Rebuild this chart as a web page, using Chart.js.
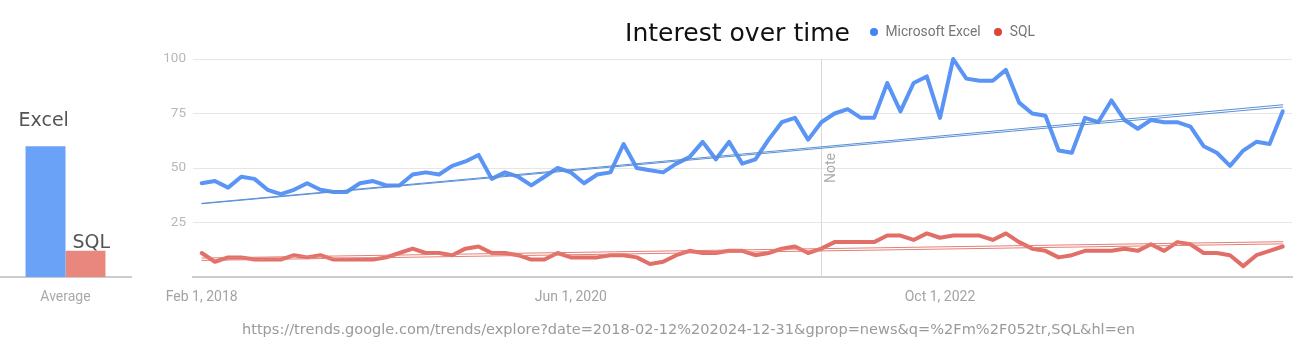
<!DOCTYPE html>
<html><head><meta charset="utf-8">
<script src="https://cdn.jsdelivr.net/npm/chart.js@4.4.1/dist/chart.umd.min.js"></script>
<style>
html,body{margin:0;padding:0;background:#fff;width:1315px;height:357px;overflow:hidden;position:relative;font-family:Roboto,sans-serif}
canvas{position:absolute;left:0;top:0}
.txt{position:absolute;white-space:nowrap;line-height:1;transform-origin:0 0}
#legend{position:absolute;left:870px;top:25px;display:flex;align-items:center;font-family:Roboto,sans-serif;font-size:13.8px;color:#757575;line-height:1}
#legend .item{display:flex;align-items:center;margin-right:13.5px}
#legend .dot{width:8px;height:8px;border-radius:50%;margin-right:7.5px}
</style></head><body>
<canvas id="main" width="1315" height="357"></canvas>
<canvas id="avg" width="160" height="357"></canvas>
<div id="title" class="txt" style="left:625px;top:20px;font-family:'DejaVu Sans',sans-serif;font-size:25px;color:#111"></div>
<div id="legend"></div>
<div id="url" class="txt" style="left:242px;top:322px;font-family:'DejaVu Sans',sans-serif;font-size:14.5px;color:#9a9a9a"></div>
<script>
// ---- data ----
const titleText = "Interest over time";
const urlText = "https://trends.google.com/trends/explore?date=2018-02-12%202024-12-31&gprop=news&q=%2Fm%2F052tr,SQL&hl=en";
const seriesNames = ["Microsoft Excel", "SQL"];
const seriesColors = ["#4285f4", "#db4437"];
const startYear = 2018, startMonth = 2, monthCount = 83;
const months = Array.from({length: monthCount}, (_, i) => {
  const m = startMonth - 1 + i; return (startYear + Math.floor(m / 12)) + "-" + String(m % 12 + 1).padStart(2, "0");
});
const excelValues = [43,44,41,46,45,40,38,40,43,40,39,39,43,44,42,42,47,48,47,51,
  53,56,45,48,46,42,46,50,48,43,47,48,61,50,49,48,52,55,62,54,62,52,
  54,63,71,73,63,71,75,77,73,73,89,76,89,92,73,100,91,90,90,95,80,75,
  74,58,57,73,71,81,72,68,72,71,71,69,60,57,51,58,62,61,76];
const sqlValues = [11,7,9,9,8,8,8,10,9,10,8,8,8,8,9,11,13,11,11,10,
  13,14,11,11,10,8,8,11,9,9,9,10,10,9,6,7,10,12,11,11,12,12,
  10,11,13,14,11,13,16,16,16,16,19,19,17,20,18,19,19,19,17,20,16,13,
  12,9,10,12,12,12,13,12,15,12,16,15,11,11,10,5,10,12,14];
const excelTrendA = [33.8, 79.0];
const excelTrendB = [33.6, 78.0];
const sqlTrendA = [8.7, 16.2];
const sqlTrendB = [7.6, 15.2];
const xTickIdx = [0, 28, 56];
const xTickLabels = ["Feb 1, 2018", "Jun 1, 2020", "Oct 1, 2022"];
const yTicks = [0, 25, 50, 75, 100];
const noteIndex = 47;
const noteLabel = "Note";
const avgCategories = ["Average"];
const avgLabels = ["Excel", "SQL"];
const avgValues = [60, 12];

// ---- text ----
const titleEl = document.getElementById('title');
titleEl.textContent = titleText;
const urlEl = document.getElementById('url');
urlEl.textContent = urlText;
function fitWidth(el, w){ const r = el.getBoundingClientRect().width; if (r > 0) el.style.transform = 'scaleX(' + (w / r) + ')'; }
fitWidth(titleEl, 225);
fitWidth(urlEl, 893);
const legendEl = document.getElementById('legend');
seriesNames.forEach((n, i) => {
  const it = document.createElement('div'); it.className = 'item';
  const d = document.createElement('span'); d.className = 'dot'; d.style.background = seriesColors[i];
  const t = document.createElement('span'); t.textContent = n;
  it.appendChild(d); it.appendChild(t); legendEl.appendChild(it);
});

// ---- main chart ----
const lineColors = ["#5a94f5", "#e26f67"];
const trendColors = ["#5b8fd6", "#e47e76"];
const toPts = arr => arr.map((v, i) => ({x: i, y: v}));
const trendPts = arr => [{x: 0, y: arr[0]}, {x: monthCount - 1, y: arr[1]}];

const notePlugin = {
  id: 'note',
  beforeDatasetsDraw(chart){
    const {ctx, chartArea, scales:{x}} = chart;
    const px = Math.round(x.getPixelForValue(noteIndex)) + 0.5;
    ctx.save();
    ctx.strokeStyle = '#d9d9d9'; ctx.lineWidth = 1;
    ctx.beginPath(); ctx.moveTo(px, chartArea.top); ctx.lineTo(px, chartArea.bottom); ctx.stroke();
    ctx.translate(px + 10, 168); ctx.rotate(-Math.PI / 2);
    ctx.fillStyle = '#ababab'; ctx.font = '14px Roboto'; ctx.textAlign = 'center'; ctx.textBaseline = 'middle';
    ctx.fillText(noteLabel, 0, 0);
    ctx.restore();
  }
};

new Chart(document.getElementById('main'), {
  type: 'line',
  data: { datasets: [
    {label: 'trendA', data: trendPts(excelTrendA), borderColor: trendColors[0], borderWidth: 1, order: 0, clip: 6},
    {label: 'trendB', data: trendPts(excelTrendB), borderColor: trendColors[0], borderWidth: 1, order: 0, clip: 6},
    {label: 'trendC', data: trendPts(sqlTrendA), borderColor: trendColors[1], borderWidth: 1, order: 0, clip: 6},
    {label: 'trendD', data: trendPts(sqlTrendB), borderColor: trendColors[1], borderWidth: 1, order: 0, clip: 6},
    {label: seriesNames[0], data: toPts(excelValues), borderColor: lineColors[0], borderWidth: 4, order: 1, clip: 6},
    {label: seriesNames[1], data: toPts(sqlValues), borderColor: lineColors[1], borderWidth: 4, order: 1, clip: 6}
  ]},
  options: {
    responsive: false, animation: false, events: [],
    layout: {padding: {top: 59, right: 23, left: 0, bottom: 0}},
    plugins: {legend: {display: false}, tooltip: {enabled: false}},
    elements: {point: {radius: 0}, line: {tension: 0, borderJoinStyle: 'round', borderCapStyle: 'round', fill: false}},
    scales: {
      x: {
        type: 'linear', min: -0.66, max: monthCount - 1 + 0.7,
        grid: {display: false},
        border: {display: true, color: '#cccccc', width: 2},
        afterBuildTicks: s => { s.ticks = xTickIdx.map(v => ({value: v})); },
        afterFit: s => { s.height = 80; },
        ticks: {
          callback: v => { const k = xTickIdx.indexOf(v); return k >= 0 ? xTickLabels[k] : ''; },
          maxRotation: 0, autoSkip: false, color: '#a3a3a3', font: {family: 'Roboto', size: 14}, padding: 4
        }
      },
      y: {
        min: 0, max: 100,
        afterBuildTicks: s => { s.ticks = yTicks.map(v => ({value: v})); },
        afterFit: s => { s.width = 193; },
        grid: {color: '#e6e6e6', drawTicks: false, lineWidth: 1},
        border: {display: false},
        ticks: {callback: v => v === 0 ? '' : String(v), color: '#b8b8b8', font: {family: 'Roboto', size: 13.5}, padding: 7}
      }
    }
  },
  plugins: [notePlugin]
});

// ---- average bar chart ----
const barColors = ["#6aa2f7", "#e9867e"];
const barLabelPlugin = {
  id: 'barLabels',
  afterDatasetsDraw(chart){
    const {ctx} = chart;
    const offs = [{dx: -27, dy: -20}, {dx: -13, dy: -3}];
    ctx.save();
    ctx.font = '19px "DejaVu Sans"'; ctx.fillStyle = '#555'; ctx.textAlign = 'left'; ctx.textBaseline = 'alphabetic';
    chart.data.datasets.forEach((ds, i) => {
      const el = chart.getDatasetMeta(i).data[0];
      ctx.fillText(avgLabels[i], el.x + offs[i].dx, el.y + offs[i].dy);
    });
    ctx.restore();
  }
};
new Chart(document.getElementById('avg'), {
  type: 'bar',
  data: { labels: avgCategories, datasets: avgLabels.map((n, i) => ({
    label: n, data: [avgValues[i]], backgroundColor: barColors[i], categoryPercentage: 0.61, barPercentage: 1
  }))},
  options: {
    responsive: false, animation: false, events: [],
    layout: {padding: {top: 59, right: 29, left: 0, bottom: 0}},
    plugins: {legend: {display: false}, tooltip: {enabled: false}},
    scales: {
      x: {grid: {display: false}, border: {display: true, color: '#cccccc', width: 2},
          afterFit: s => { s.height = 80; },
          ticks: {color: '#aaaaaa', font: {family: 'Roboto', size: 14}, padding: 4}},
      y: {display: false, min: 0, max: 100}
    }
  },
  plugins: [barLabelPlugin]
});
</script>
</body></html>
